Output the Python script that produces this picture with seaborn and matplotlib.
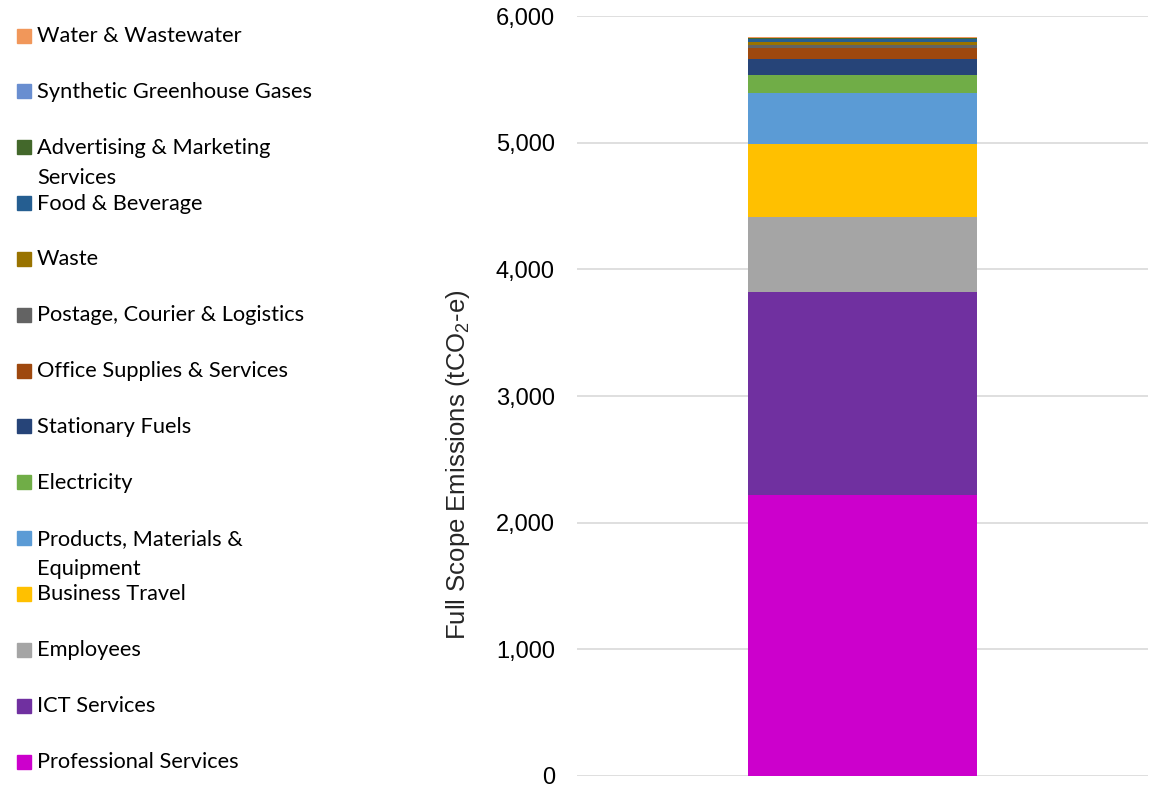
import matplotlib
matplotlib.use("Agg")
import matplotlib.pyplot as plt
import seaborn as sns
from matplotlib.patches import Rectangle

# Data (bottom to top of the stack)
categories = ["Professional Services", "ICT Services", "Employees", "Business Travel",
              "Products, Materials & Equipment", "Electricity", "Stationary Fuels",
              "Office Supplies & Services", "Postage, Courier & Logistics", "Waste",
              "Food & Beverage", "Advertising & Marketing Services",
              "Synthetic Greenhouse Gases", "Water & Wastewater"]
values = [2215, 1605, 592, 577, 403, 142, 126, 89, 19, 26, 26, 4, 2, 8]
colors = ["#CC00CC", "#7030A0", "#A5A5A5", "#FFC000", "#5B9BD5", "#70AD47", "#264478",
          "#9E480E", "#636363", "#997300", "#255E91", "#43682B", "#698ED0", "#F1975A"]
legend_labels = ["Professional Services", "ICT Services", "Employees", "Business Travel",
                 "Products, Materials &\nEquipment", "Electricity", "Stationary Fuels",
                 "Office Supplies & Services", "Postage, Courier & Logistics", "Waste",
                 "Food & Beverage", "Advertising & Marketing\nServices",
                 "Synthetic Greenhouse Gases", "Water & Wastewater"]
yticks = [0, 1000, 2000, 3000, 4000, 5000, 6000]

sns.set_style("white")
plt.rcParams["font.family"] = ["Liberation Sans", "DejaVu Sans"]
plt.rcParams["mathtext.fontset"] = "custom"
plt.rcParams["mathtext.rm"] = "Liberation Sans"
plt.rcParams["mathtext.it"] = "Liberation Sans"

W, H = 1151, 787
fig = plt.figure(figsize=(W / 100, H / 100), dpi=100)
ax = fig.add_axes([577 / W, (H - 776) / H, 571 / W, 760 / H])

bottom = 0
for cat, v, c in zip(categories, values, colors):
    sns.barplot(x=["Total"], y=[v], bottom=bottom, color=c, width=0.4,
                errorbar=None, ax=ax, saturation=1, linewidth=0, zorder=3)
    bottom += v

ax.set_xlim(-0.5, 0.5)
ax.set_ylim(0, 6000)
ax.set_yticks(yticks)
ax.set_yticklabels([f"{t:,}" for t in yticks], fontsize=17, color="#000000")
ax.set_xticks([])
ax.set_xlabel("")
ax.grid(axis="y", color="#D9D9D9", linewidth=1.2, zorder=0)
for s in ax.spines.values():
    s.set_visible(False)
ax.tick_params(axis="y", length=0, pad=16)
ax.set_ylabel(r"Full Scope Emissions (tCO$_2$-e)", fontsize=18.5)
ax.yaxis.set_label_coords((472 - 577) / 571, (776 - 465) / 760)

# Legend (top to bottom, reversed stack order)
row_y0 = 35.5
row_step = 55.85
line_step = 30
sq = 14
for i, (lab, c) in enumerate(zip(legend_labels[::-1], colors[::-1])):
    yc = row_y0 + i * row_step
    fig.patches.append(Rectangle((17 / W, (H - yc - sq / 2) / H), sq / W, sq / H,
                                 transform=fig.transFigure, color=c))
    for j, line in enumerate(lab.split("\n")):
        fig.text(37 / W, (H - yc - 6.5 - j * line_step) / H, line, fontsize=15.7,
                 family=["Lato", "DejaVu Sans"], va="baseline", ha="left", color="#000000")

fig.savefig("out.png", dpi=100)
